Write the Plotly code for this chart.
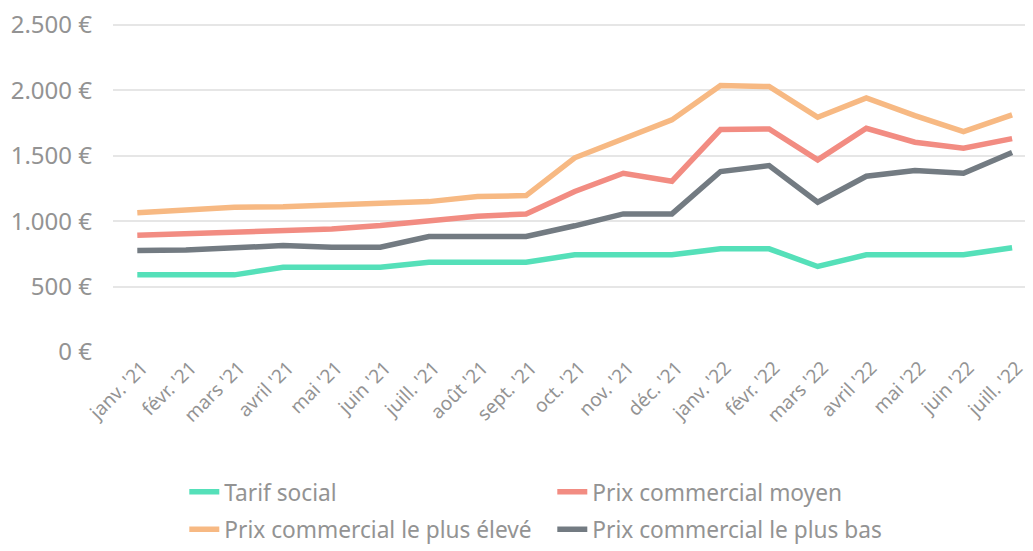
import plotly.graph_objects as go

months = ["janv. '21", "févr. '21", "mars '21", "avril '21", "mai '21", "juin '21",
          "juill. '21", "août '21", "sept. '21", "oct. '21", "nov. '21", "déc. '21",
          "janv. '22", "févr. '22", "mars '22", "avril '22", "mai '22", "juin '22", "juill. '22"]

tarif_social = [590, 590, 590, 648, 648, 648, 687, 687, 687, 743, 743, 743, 789, 789, 654, 743, 743, 743, 797]
prix_moyen = [893, 905, 918, 923, 940, 967, 1005, 1038, 1056, 1227, 1367, 1306, 1701, 1706, 1469, 1711, 1604, 1558, 1632]
prix_eleve = [1064, 1087, 1107, 1110, 1122, 1140, 1150, 1189, 1196, 1485, 1627, 1775, 2037, 2030, 1795, 1943, 1808, 1686, 1813]
prix_bas = [776, 780, 797, 814, 801, 801, 883, 883, 883, 965, 1056, 1056, 1380, 1426, 1145, 1344, 1388, 1367, 1525]

y_ticks = [0, 500, 1000, 1500, 2000, 2500]
y_tick_labels = ["0 €", "500 €", "1.000 €", "1.500 €", "2.000 €", "2.500 €"]

series = [
    ("Tarif social", tarif_social, "#55e0b9", "legend"),
    ("Prix commercial moyen", prix_moyen, "#f28c82", "legend"),
    ("Prix commercial le plus élevé", prix_eleve, "#f7b983", "legend2"),
    ("Prix commercial le plus bas", prix_bas, "#737b82", "legend2"),
]

fig = go.Figure()
for name, vals, color, lg in series:
    fig.add_trace(go.Scatter(x=months, y=vals, name=name, mode="lines", legend=lg,
                             line=dict(color=color, width=5.5)))

# The page body has an 8px margin, so the figure is sized to fit the window.
W, H = 1025, 543
font_family = "Noto Sans"
txt = "#939393"
leg_common = dict(orientation="h", xref="container", yref="container",
                  xanchor="left",
                  entrywidth=323, entrywidthmode="pixels",
                  font=dict(size=22.7, color=txt, family=font_family),
                  bgcolor="rgba(0,0,0,0)")
fig.update_layout(
    width=W, height=H,
    margin=dict(l=105, r=0, t=4, b=199, autoexpand=False),
    paper_bgcolor="white", plot_bgcolor="white",
    font=dict(family=font_family, color=txt, size=20),
    xaxis=dict(type="category", range=[-0.5, 18.43], showgrid=False, showline=False,
               tickangle=-45, tickfont=dict(size=19, color=txt), ticks="",
               automargin=False, ticklabeloverflow="allow", ticklabelshift=5),
    yaxis=dict(range=[0, 2600], tickvals=y_ticks, ticktext=y_tick_labels,
               showgrid=True, gridcolor="#e6e6e6", gridwidth=2, zeroline=False,
               tickfont=dict(size=24, color=txt), ticks="", automargin=False,
               ticklabelstandoff=20, ticklabeloverflow="allow"),
    legend=dict(x=0.172, y=1 - 484 / H, yanchor="middle", **leg_common),
    legend2=dict(x=0.172, y=-0.012, yanchor="bottom", **leg_common),
    showlegend=True,
)
fig.write_html("out.html")
